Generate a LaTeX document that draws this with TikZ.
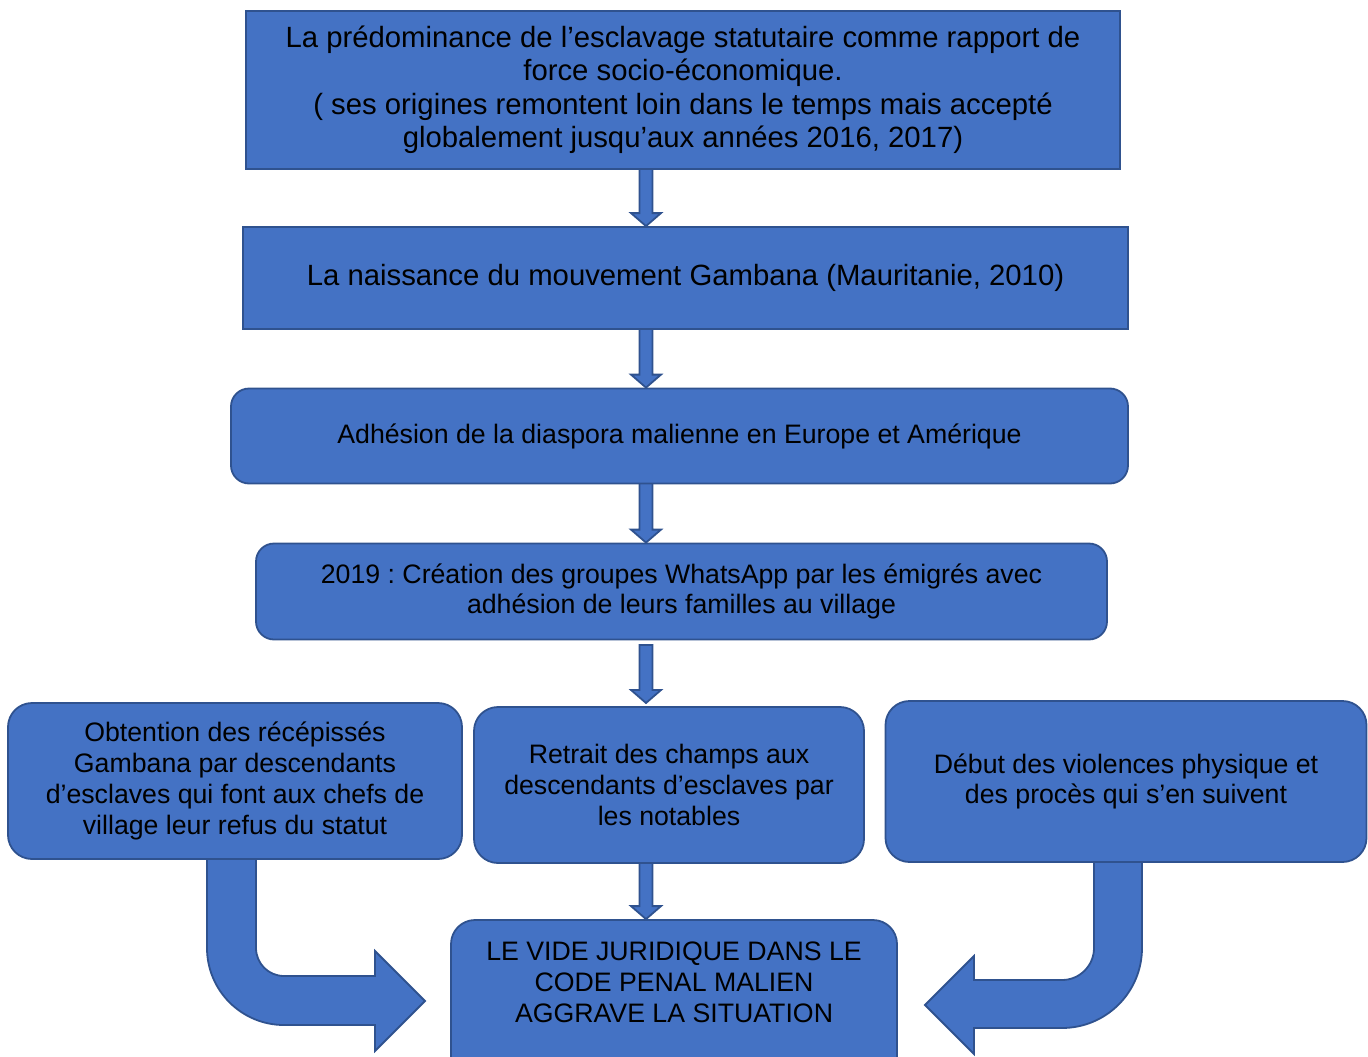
\documentclass[tikz,border=0pt]{standalone}
\usepackage{fontspec}
\setmainfont{Liberation Sans}
\usetikzlibrary{calc,backgrounds}
\definecolor{boxfill}{HTML}{4472C4}
\definecolor{boxline}{HTML}{2F528F}
\tikzset{
 flowbox/.style={draw=boxline, fill=boxfill, line width=1.8pt, inner sep=0pt, align=center, text=black},
 bigtext/.style={font=\fontsize{29.3}{33.5}\selectfont\frenchspacing},
 smalltext/.style={font=\fontsize{26.7}{30.8}\selectfont\frenchspacing},
 blockarrow/.style={draw=boxline, fill=boxfill, line width=1.8pt, line join=miter},
}
\newcommand\blockdown[2]{%
 \path[blockarrow] let \p1=(#1), \p2=(#2) in
 (\x1-6.5pt,\y1) -- (\x1+6.5pt,\y1) -- (\x1+6.5pt,\y2+13pt) -- (\x1+15pt,\y2+13pt) -- (\x1,\y2) -- (\x1-15pt,\y2+13pt) -- (\x1-6.5pt,\y2+13pt) -- cycle;}
\begin{document}
\frenchspacing
\begin{tikzpicture}[x=1pt,y=-1pt]
\useasboundingbox (0,0) rectangle (1368,1057);
\node[flowbox,bigtext,minimum width=874pt,minimum height=158pt] (b1) at (683,90)
 {La prédominance de l’esclavage statutaire comme rapport de\\force socio-économique.\\( ses origines remontent loin dans le temps mais accepté\\globalement jusqu’aux années 2016, 2017)};
\node[flowbox,bigtext,minimum width=885pt,minimum height=102pt] (b2) at (685.5,278)
 {La naissance du mouvement Gambana (Mauritanie, 2010)};
\node[flowbox,smalltext,rounded corners=18pt,minimum width=897pt,minimum height=95pt] (b3) at (679.5,436)
 {Adhésion de la diaspora malienne en Europe et Amérique};
\node[flowbox,smalltext,rounded corners=18pt,minimum width=851pt,minimum height=96pt] (b4) at (681.5,591.5)
 {2019 : Création des groupes WhatsApp par les émigrés avec\\adhésion de leurs familles au village};
\node[flowbox,smalltext,rounded corners=24pt,minimum width=454pt,minimum height=156pt] (b5) at (235,781)
 {Obtention des récépissés\\Gambana par descendants\\d’esclaves qui font aux chefs de\\village leur refus du statut};
\node[flowbox,smalltext,rounded corners=24pt,minimum width=390pt,minimum height=156pt] (b6) at (669,785)
 {Retrait des champs aux\\descendants d’esclaves par\\les notables};
\node[flowbox,smalltext,rounded corners=24pt,minimum width=481pt,minimum height=161pt] (b7) at (1126,781.5)
 {Début des violences physique et\\des procès qui s’en suivent};
\node[flowbox,rounded corners=24pt,minimum width=446pt,minimum height=160pt] (b8) at (674,1000) {};
\node[smalltext,align=center,text=black] (b8t) at (674,982)
 {LE VIDE JURIDIQUE DANS LE\\CODE PENAL MALIEN\\AGGRAVE LA SITUATION};
\coordinate (a1s) at (646,168);
\coordinate (a2s) at (646,328);
\coordinate (a3s) at (646,483);
\coordinate (a4s) at (646,645);
\coordinate (a4e) at (646,703);
\coordinate (a5s) at (646,863);
\begin{scope}[on background layer]
\blockdown{a1s}{a1s |- b2.north}
\blockdown{a2s}{a2s |- b3.north}
\blockdown{a3s}{a3s |- b4.north}
\blockdown{a4s}{a4e}
\blockdown{a5s}{a5s |- b8.north}
\path[blockarrow] (207,857) -- (207,948) .. controls (207,990.5) and (241.5,1025) .. (284,1025)
 -- (375,1025) -- (375,1051) -- (425,1001) -- (375,951) -- (375,976) -- (284,976)
 .. controls (268.5,976) and (256,963.5) .. (256,948) -- (256,857) -- cycle;
\path[blockarrow] (1142,861) -- (1142,948) .. controls (1142,992.2) and (1106.2,1028) .. (1062,1028)
 -- (974,1028) -- (974,1054) -- (925,1005) -- (974,956) -- (974,980) -- (1062,980)
 .. controls (1079.7,980) and (1094,965.7) .. (1094,948) -- (1094,861) -- cycle;
\end{scope}
\end{tikzpicture}
\end{document}
